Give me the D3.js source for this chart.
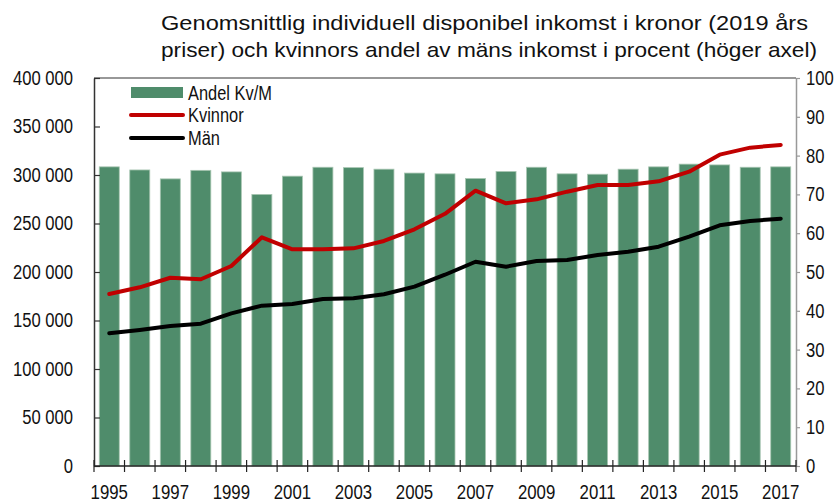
<!DOCTYPE html>
<html>
<head>
<meta charset="utf-8">
<script src="https://cdn.jsdelivr.net/npm/d3@7"></script>
<style>
  body { margin: 0; background: #fff; }
  text { font-family: "Liberation Sans", Arial, sans-serif; fill: #111; }
</style>
</head>
<body>
<div id="chart"></div>
<script>
// data
var years = d3.range(1995, 2018);
var andel = [77.1, 76.3, 74.0, 76.2, 75.8, 70.0, 74.7, 77.0, 76.9, 76.5, 75.5, 75.3,
             74.1, 75.9, 77.0, 75.3, 75.2, 76.5, 77.1, 77.8, 77.6, 77.0, 77.1];
var kvinnor = [177300, 184200, 194100, 192500, 206200, 235800, 223400, 223400, 224400, 232000, 244000, 260000,
               283800, 270800, 274900, 282800, 289700, 289700, 293500, 303400, 321000, 328200, 331000];
var man = [136800, 140200, 144300, 146700, 157400, 165300, 167000, 172200, 172900, 177000, 184900, 197200,
           210600, 205500, 211300, 212400, 217500, 220900, 226100, 236400, 248100, 252600, 255000];
var leftTicks = d3.range(0, 400001, 50000);
var rightTicks = d3.range(0, 101, 10);
var yearLabels = years.filter(function(d) { return d % 2 == 1; });
var titleLines = ["Genomsnittlig individuell disponibel inkomst i kronor (2019 års",
                  "priser) och kvinnors andel av mäns inkomst i procent (höger axel)"];
var legendNames = ["Andel Kv/M", "Kvinnor", "Män"];

var w = 839, h = 503;
var m = {top: 78, right: 43, bottom: 37, left: 94};

var svg = d3.select("#chart").append("svg")
    .attr("width", w)
    .attr("height", h);

var x = d3.scaleBand()
    .domain(years)
    .range([m.left, w - m.right])
    .paddingInner(0.345)
    .paddingOuter(0.1725);

var yL = d3.scaleLinear().domain([0, 400000]).range([h - m.bottom, m.top]);
var yR = d3.scaleLinear().domain([0, 100]).range([h - m.bottom, m.top]);

var fmt = function(d) { return d3.format(",")(d).replace(/,/g, " "); };

// squeeze text horizontally to get a narrow face
function narrow(sel, f) {
  sel.each(function() {
    var len = this.getComputedTextLength();
    d3.select(this).attr("textLength", len * f).attr("lengthAdjust", "spacingAndGlyphs");
  });
}

// title
svg.selectAll(".title")
    .data(titleLines)
    .enter()
    .append("text")
    .attr("class", "title")
    .attr("x", 161)
    .attr("y", function(d, i) { return 30 + i * 27; })
    .attr("font-size", "21px")
    .attr("textLength", function(d, i) { return [647, 656][i]; })
    .attr("lengthAdjust", "spacingAndGlyphs")
    .text(function(d) { return d; });

// bars (right axis)
svg.selectAll(".bar")
    .data(years)
    .enter()
    .append("rect")
    .attr("class", "bar")
    .attr("x", function(d) { return x(d); })
    .attr("y", function(d, i) { return yR(andel[i]); })
    .attr("width", x.bandwidth())
    .attr("height", function(d, i) { return yR(0) - yR(andel[i]); })
    .attr("fill", "#4f8c6b")
    .attr("stroke", "#a8c6b2")
    .attr("stroke-width", 0.8);

// lines (left axis)
var line = d3.line()
    .x(function(d, i) { return x(years[i]) + x.bandwidth() / 2; })
    .y(function(d) { return yL(d); });

svg.append("path")
    .datum(kvinnor)
    .attr("d", line)
    .attr("fill", "none")
    .attr("stroke", "#c00000")
    .attr("stroke-width", 4)
    .attr("stroke-linejoin", "round")
    .attr("stroke-linecap", "round");

svg.append("path")
    .datum(man)
    .attr("d", line)
    .attr("fill", "none")
    .attr("stroke", "#000")
    .attr("stroke-width", 4)
    .attr("stroke-linejoin", "round")
    .attr("stroke-linecap", "round");

// left axis
var gL = svg.append("g")
    .attr("transform", "translate(" + m.left + ",0)")
    .call(d3.axisLeft(yL).tickValues(leftTicks).tickFormat(fmt).tickSizeInner(-6).tickSizeOuter(0).tickPadding(21));
gL.attr("font-family", null).attr("font-size", null);
gL.select(".domain").attr("stroke", "#333").attr("stroke-width", 1.5);
gL.selectAll(".tick line").attr("stroke", "#333").attr("stroke-width", 1.2);
gL.selectAll("text").attr("font-size", "20px").attr("fill", "#111").call(narrow, 0.83);

// right axis
var gR = svg.append("g")
    .attr("transform", "translate(" + (w - m.right) + ",0)")
    .call(d3.axisRight(yR).tickValues(rightTicks).tickSizeInner(4).tickSizeOuter(0).tickPadding(6));
gR.attr("font-family", null).attr("font-size", null);
gR.select(".domain").attr("stroke", "#999").attr("stroke-width", 1.5);
gR.selectAll(".tick line").attr("stroke", "#999").attr("stroke-width", 1.2);
gR.selectAll("text").attr("font-size", "20px").attr("fill", "#111").call(narrow, 0.83);

// top border
svg.append("line")
    .attr("x1", m.left).attr("x2", w - m.right)
    .attr("y1", yL(400000)).attr("y2", yL(400000))
    .attr("stroke", "#333").attr("stroke-width", 1.2);

// bottom axis: ticks at band boundaries, labels on odd years
var base = yL(0);
svg.append("line")
    .attr("x1", m.left).attr("x2", w - m.right)
    .attr("y1", base).attr("y2", base)
    .attr("stroke", "#222").attr("stroke-width", 1.5);

var bounds = d3.range(0, years.length + 1).map(function(i) { return x.range()[0] + i * x.step(); });
svg.selectAll(".xtick")
    .data(bounds)
    .enter()
    .append("line")
    .attr("class", "xtick")
    .attr("x1", function(d) { return d; })
    .attr("x2", function(d) { return d; })
    .attr("y1", base - 6)
    .attr("y2", base + 6)
    .attr("stroke", "#222")
    .attr("stroke-width", 1.2);

svg.selectAll(".xlabel")
    .data(yearLabels)
    .enter()
    .append("text")
    .attr("class", "xlabel")
    .attr("x", function(d) { return x(d) + x.bandwidth() / 2; })
    .attr("y", 499)
    .attr("text-anchor", "middle")
    .attr("font-size", "21px")
    .text(function(d) { return d; })
    .call(narrow, 0.8);

// legend
var lg = svg.append("g");
lg.append("rect")
    .attr("x", 131).attr("y", 87)
    .attr("width", 52).attr("height", 11)
    .attr("fill", "#4f8c6b");
lg.append("line")
    .attr("x1", 131).attr("x2", 183).attr("y1", 115).attr("y2", 115)
    .attr("stroke", "#c00000").attr("stroke-width", 4).attr("stroke-linecap", "round");
lg.append("line")
    .attr("x1", 131).attr("x2", 183).attr("y1", 138).attr("y2", 138)
    .attr("stroke", "#000").attr("stroke-width", 4).attr("stroke-linecap", "round");
lg.selectAll(".ltext")
    .data(legendNames)
    .enter()
    .append("text")
    .attr("class", "ltext")
    .attr("x", 188)
    .attr("y", function(d, i) { return [93, 115, 138][i]; })
    .attr("dy", "0.35em")
    .attr("font-size", "20px")
    .text(function(d) { return d; })
    .call(narrow, 0.82);
</script>
</body>
</html>
